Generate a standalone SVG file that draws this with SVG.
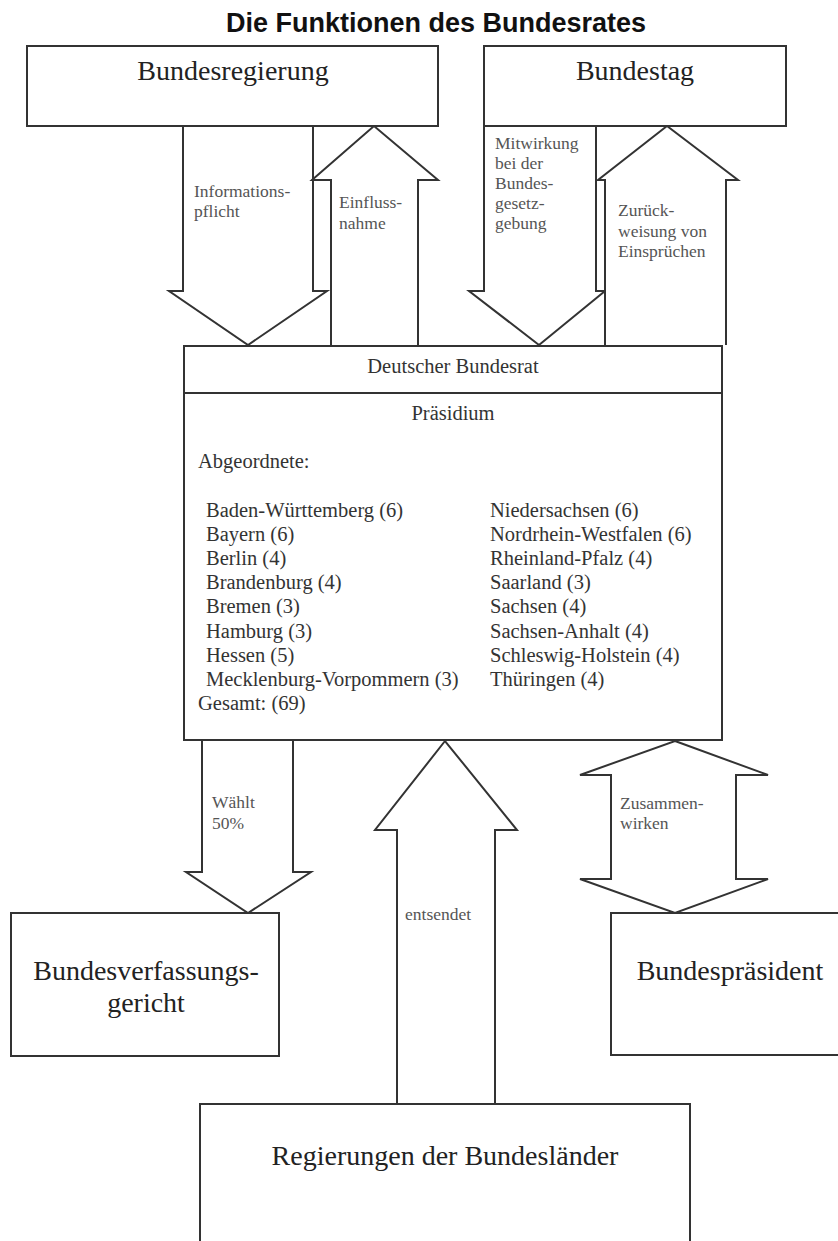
<svg xmlns="http://www.w3.org/2000/svg" width="838" height="1241" viewBox="0 0 838 1241">
<style>
.box{fill:#fff;stroke:#333;stroke-width:2}
.arr{fill:#fff;stroke:#333;stroke-width:2;stroke-linejoin:miter}
.big{font-family:"Liberation Serif","Times New Roman",serif;font-size:28px;fill:#222;text-anchor:middle}
.mid{font-family:"Liberation Serif","Times New Roman",serif;font-size:20.5px;fill:#333;text-anchor:middle}
.lst{font-family:"Liberation Serif","Times New Roman",serif;font-size:20.5px;fill:#333}
.lbl{font-family:"Liberation Serif","Times New Roman",serif;font-size:17.5px;fill:#555}
.title{font-family:"Liberation Sans",Arial,sans-serif;font-size:27px;font-weight:bold;fill:#111;text-anchor:middle}
</style>
<rect width="838" height="1241" fill="#fff"/>
<text class="title" x="436" y="32">Die Funktionen des Bundesrates</text>

<g id="connectors">
  <path class="arr" d="M183,126 V291 H169 L248,345 L327,291 H313 V126"/>
  <path class="arr" d="M331,345 V180 H312 L374,126 L438,180 H418 V345"/>
  <path class="arr" d="M484,126 V291 H469 L539,345 L605,291 H596 V126"/>
  <path class="arr" d="M605,345 V180 H598 L667,126 L738,180 H726 V345"/>
  <path class="arr" d="M202,740 V872 H186 L248,913 L311,872 H293 V740"/>
  <path class="arr" d="M397,1104 V830 H375 L445,741 L517,830 H495 V1104"/>
  <path class="arr" d="M675,741 L768,775 H736 V879 H768 L675,913 L580,879 H611 V775 H580 Z"/>
  <g class="lbl">
    <text x="194" y="197">Informations-</text>
    <text x="194" y="217">pflicht</text>
    <text x="339" y="208">Einfluss-</text>
    <text x="339" y="229">nahme</text>
    <text x="495" y="149">Mitwirkung</text>
    <text x="495" y="169">bei der</text>
    <text x="495" y="189">Bundes-</text>
    <text x="495" y="209">gesetz-</text>
    <text x="495" y="229">gebung</text>
    <text x="618" y="216">Zurück-</text>
    <text x="618" y="237">weisung von</text>
    <text x="618" y="257">Einsprüchen</text>
    <text x="212" y="808">Wählt</text>
    <text x="212" y="829">50%</text>
    <text x="405" y="920">entsendet</text>
    <text x="620" y="809">Zusammen-</text>
    <text x="620" y="829">wirken</text>
  </g>
</g>

<g id="bundesregierung">
  <rect class="box" x="27" y="46" width="411" height="80"/>
  <text class="big" x="233" y="80">Bundesregierung</text>
</g>

<g id="bundestag">
  <rect class="box" x="484" y="46" width="302" height="80"/>
  <text class="big" x="635" y="80">Bundestag</text>
</g>

<g id="bundesrat">
  <rect class="box" x="184" y="346" width="538" height="394"/>
  <line x1="184" y1="393" x2="722" y2="393" stroke="#333" stroke-width="2"/>
  <text class="mid" x="453" y="373">Deutscher Bundesrat</text>
  <text class="mid" x="453" y="420">Präsidium</text>
  <text class="lst" x="198" y="468">Abgeordnete:</text>
  <g class="lst">
    <text x="206" y="517">Baden-Württemberg (6)</text>
    <text x="206" y="541">Bayern (6)</text>
    <text x="206" y="565">Berlin (4)</text>
    <text x="206" y="589">Brandenburg (4)</text>
    <text x="206" y="613">Bremen (3)</text>
    <text x="206" y="638">Hamburg (3)</text>
    <text x="206" y="662">Hessen (5)</text>
    <text x="206" y="686">Mecklenburg-Vorpommern (3)</text>
    <text x="198" y="710">Gesamt: (69)</text>
    <text x="490" y="517">Niedersachsen (6)</text>
    <text x="490" y="541">Nordrhein-Westfalen (6)</text>
    <text x="490" y="565">Rheinland-Pfalz (4)</text>
    <text x="490" y="589">Saarland (3)</text>
    <text x="490" y="613">Sachsen (4)</text>
    <text x="490" y="638">Sachsen-Anhalt (4)</text>
    <text x="490" y="662">Schleswig-Holstein (4)</text>
    <text x="490" y="686">Thüringen (4)</text>
  </g>
</g>

<g id="bundesverfassungsgericht">
  <rect class="box" x="11" y="913" width="268" height="143"/>
  <text class="big" x="146" y="980">Bundesverfassungs-</text>
  <text class="big" x="146" y="1012">gericht</text>
</g>

<g id="bundespraesident">
  <rect class="box" x="611" y="913" width="232" height="142"/>
  <text class="big" x="730" y="980">Bundespräsident</text>
</g>

<g id="regierungen">
  <rect class="box" x="200" y="1104" width="490" height="160"/>
  <text class="big" x="445" y="1165">Regierungen der Bundesländer</text>
</g>
</svg>
